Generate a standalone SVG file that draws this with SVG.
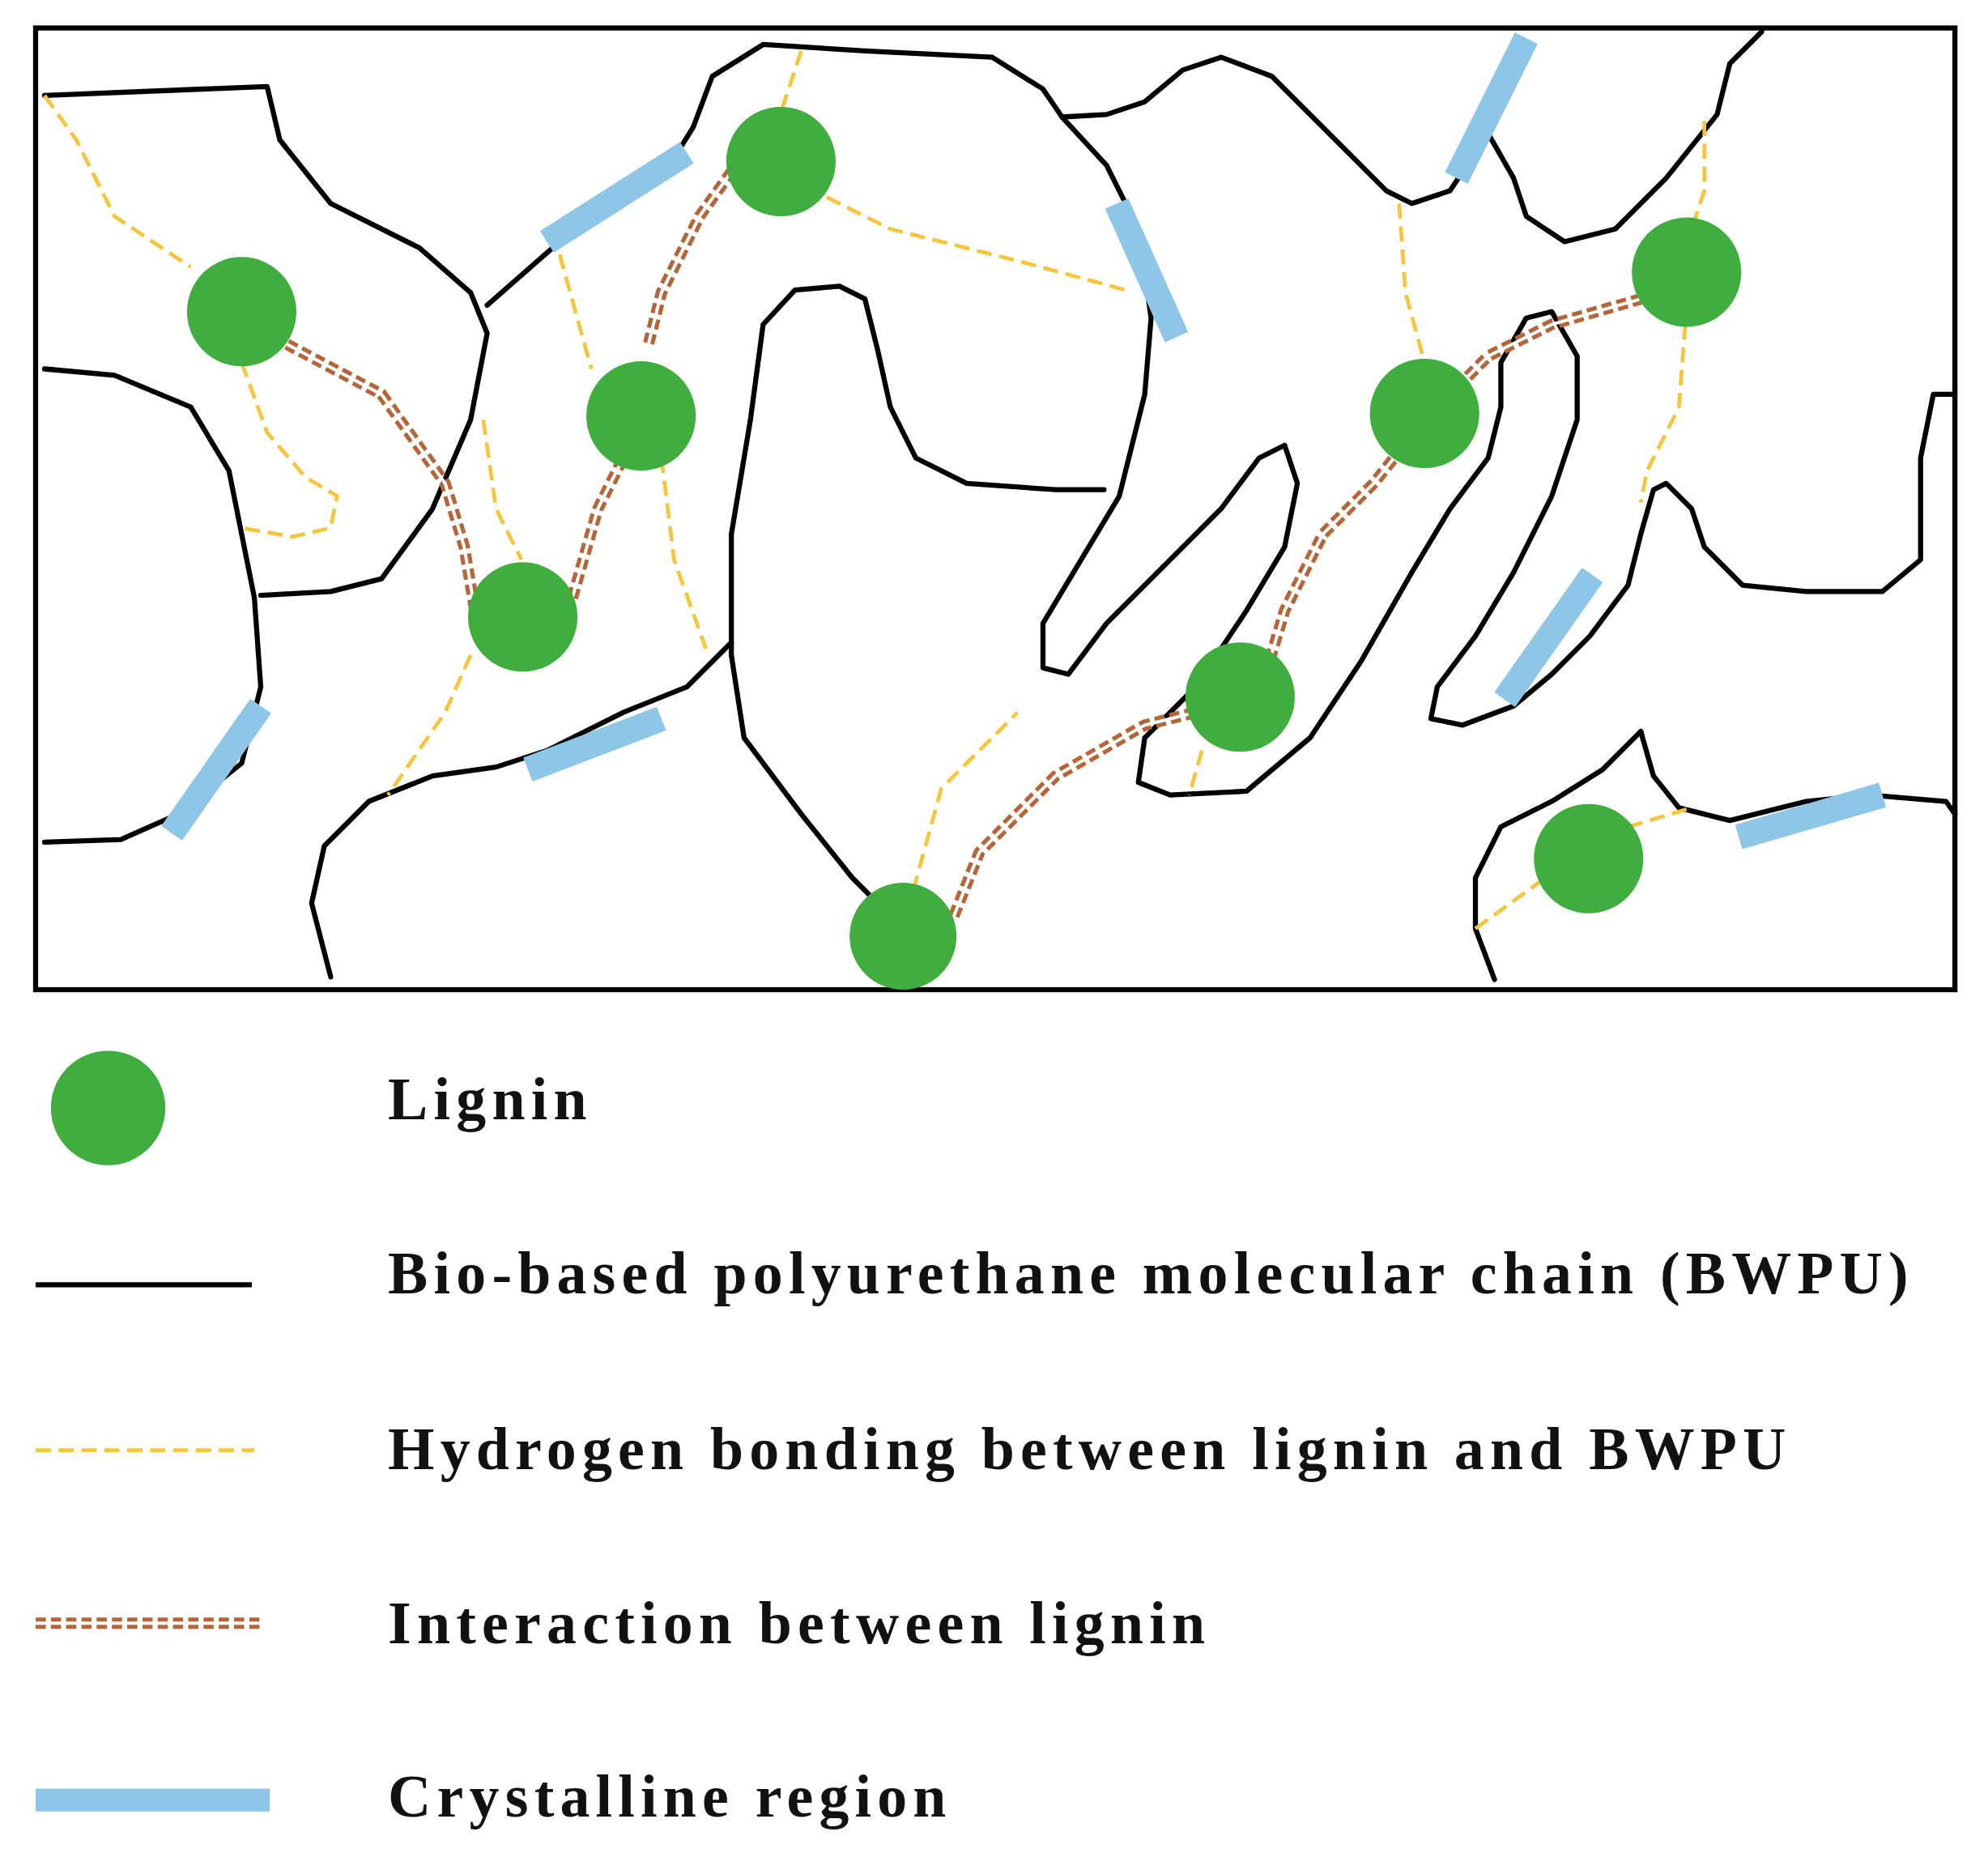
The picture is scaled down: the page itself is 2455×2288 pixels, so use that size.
<svg xmlns="http://www.w3.org/2000/svg" width="2455" height="2288" viewBox="0 0 2455 2288">
<style>
.c{fill:none;stroke:#000;stroke-width:4;stroke-linejoin:round;stroke-linecap:round}
.y{fill:none;stroke:#f7c53c;stroke-width:3;stroke-dasharray:12,6}
.b{fill:none;stroke:#b5653a;stroke-width:9;stroke-dasharray:8,4}
.w{fill:none;stroke:#fff;stroke-width:2.5}
.x{fill:none;stroke:#8ec6e8;stroke-width:20}
.g{fill:#3fae3f}
.t{font-family:"Liberation Serif",serif;font-weight:bold;font-size:47px;letter-spacing:4.6px;fill:#111}
</style>
<rect width="2455" height="2288" fill="#fff"/>
<g transform="scale(1.5707)">
<rect x="28" y="22" width="1509" height="756" fill="none" stroke="#000" stroke-width="4"/>
<g id="chains">
<path class="c" d="M35,75 L210,68 L220,110 L260,160 L330,195 L370,230 L383,262 L370,330 L340,400 L300,455 L260,465 L205,468"/>
<path class="c" d="M35,290 L90,295 L150,320 L180,370 L200,470 L205,540 L190,600 L140,640 L95,660 L35,662"/>
<path class="c" d="M383,240 L440,190 L520,140 L545,100 L560,60 L600,35 L680,40 L780,45 L820,70 L835,92 L870,90 L900,80 L930,55 L960,45 L1000,60 L1050,110 L1090,150 L1110,160 L1140,150 L1160,120 L1170,105 L1190,140 L1200,170 L1230,190 L1270,180 L1310,140 L1350,90 L1360,50 L1385,25"/>
<path class="c" d="M835,92 L870,130 L895,180 L905,250 L900,310 L880,390 L850,440 L820,490 L820,525 L840,530 L870,490 L920,440 L960,400 L990,360 L1010,350 L1020,380 L1010,430 L980,480 L940,540 L900,580 L895,615 L920,625 L980,622 L1030,580 L1070,520 L1110,450 L1140,400 L1170,360 L1180,320 L1180,285 L1200,250 L1220,245 L1240,280 L1240,330 L1220,390 L1190,450 L1160,500 L1130,540 L1125,565 L1150,570 L1190,555 L1220,530 L1250,500 L1280,460 L1290,420 L1300,385 L1310,380 L1330,400 L1340,430 L1370,460 L1420,465 L1480,465 L1510,440 L1510,360 L1520,310 L1535,310"/>
<path class="c" d="M575,515 L575,420 L590,330 L600,255 L625,228 L660,225 L680,235 L690,275 L700,320 L720,360 L760,380 L830,385 L868,385"/>
<path class="c" d="M575,515 L585,580 L630,640 L670,690 L700,720"/>
<path class="c" d="M575,505 L540,540 L490,560 L430,590 L390,603 L340,610 L290,630 L255,665 L245,710 L260,768"/>
<path class="c" d="M1290,575 L1300,610 L1320,635 L1360,645 L1420,630 L1470,625 L1530,630 L1537,640"/>
<path class="c" d="M1290,575 L1260,605 L1220,630 L1180,650 L1160,690 L1160,730 L1175,770"/>
</g>
<g id="hbonds">
<path class="y" d="M35,75 L60,110 L90,170 L150,210"/>
<path class="y" d="M190,285 L210,340 L240,375 L265,390 L260,415 L230,422 L190,415"/>
<path class="y" d="M630,40 L615,85"/>
<path class="y" d="M650,155 L700,180 L800,205 L885,228"/>
<path class="y" d="M440,200 L465,290"/>
<path class="y" d="M380,330 L390,400 L410,440"/>
<path class="y" d="M520,360 L530,440 L555,510"/>
<path class="y" d="M370,515 L350,560 L305,625"/>
<path class="y" d="M1100,160 L1105,230 L1120,285"/>
<path class="y" d="M1340,95 L1340,150 L1330,180"/>
<path class="y" d="M1325,255 L1320,320 L1295,370 L1290,395"/>
<path class="y" d="M718,700 L740,620 L800,560"/>
<path class="y" d="M945,590 L935,625"/>
<path class="y" d="M1160,730 L1215,690"/>
<path class="y" d="M1280,650 L1330,635"/>
</g>
<g id="interactions">
<path class="b" d="M215,265 L300,310 L350,380 L365,430 L375,490"/><path class="w" d="M215,265 L300,310 L350,380 L365,430 L375,490"/>
<path class="b" d="M450,470 L470,400 L500,340"/><path class="w" d="M450,470 L470,400 L500,340"/>
<path class="b" d="M510,270 L520,230 L550,170 L575,135"/><path class="w" d="M510,270 L520,230 L550,170 L575,135"/>
<path class="b" d="M750,720 L770,670 L830,610 L900,570 L960,555"/><path class="w" d="M750,720 L770,670 L830,610 L900,570 L960,555"/>
<path class="b" d="M995,530 L1010,480 L1040,420 L1080,380 L1120,330 L1170,280 L1220,255 L1290,235"/><path class="w" d="M995,530 L1010,480 L1040,420 L1080,380 L1120,330 L1170,280 L1220,255 L1290,235"/>
</g>
<g id="crystals">
<path class="x" d="M430,190 L540,120 M878,160 L925,265 M1145,140 L1200,30 M135,655 L205,555 M415,605 L520,565 M1183,550 L1252,452 M1367,658 L1480,625"/>
</g>
<g id="lignin">
<circle class="g" cx="190" cy="245" r="43"/><circle class="g" cx="614" cy="127" r="43"/>
<circle class="g" cx="504" cy="327" r="43"/><circle class="g" cx="411" cy="485" r="43"/>
<circle class="g" cx="1120" cy="325" r="43"/><circle class="g" cx="1326" cy="214" r="43"/>
<circle class="g" cx="975" cy="548" r="43"/><circle class="g" cx="1249" cy="675" r="43"/>
<circle class="g" cx="710" cy="736" r="42"/>
</g>
<g id="legend">
<circle class="g" cx="85" cy="871" r="45"/>
<text class="t" x="305" y="880">Lignin</text>
<line x1="28" y1="1010" x2="198" y2="1010" stroke="#000" stroke-width="4"/>
<text class="t" x="305" y="1017">Bio-based polyurethane molecular chain (BWPU)</text>
<line class="y" x1="28" y1="1140" x2="200" y2="1140"/>
<text class="t" x="305" y="1155">Hydrogen bonding between lignin and BWPU</text>
<line class="b" x1="28" y1="1276" x2="205" y2="1276"/><line class="w" x1="28" y1="1276" x2="205" y2="1276"/>
<text class="t" x="305" y="1292">Interaction between lignin</text>
<line class="x" x1="28" y1="1415" x2="212" y2="1415" style="stroke-width:18"/>
<text class="t" x="305" y="1428">Crystalline region</text>
</g>
</g>
</svg>
